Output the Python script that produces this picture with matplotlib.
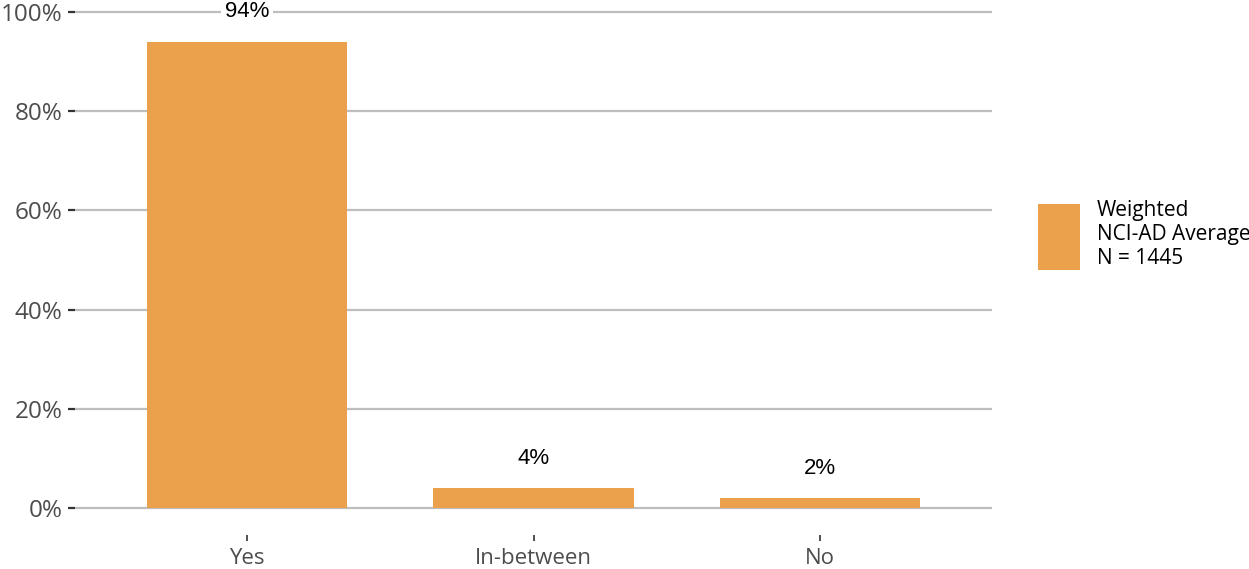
import matplotlib
matplotlib.use("Agg")
import matplotlib.pyplot as plt
from matplotlib.ticker import FuncFormatter

categories = ["Yes", "In-between", "No"]
values = [94, 4, 2]
labels = ["94%", "4%", "2%"]
yticks = [0, 20, 40, 60, 80, 100]
legend_label = "Weighted\nNCI-AD Average\nN = 1445"

W, H = 1249, 569
fig = plt.figure(figsize=(W / 100, H / 100), dpi=100)
ax = fig.add_axes([75 / W, 1 - 535 / H, (992 - 75) / W, 535 / H])

bar_color = "#EBA04C"
x = list(range(len(categories)))
ax.bar(x, values, width=0.7, color=bar_color, zorder=2, label=legend_label)

ax.set_xlim(-0.6, 2.6)
ax.set_ylim(-5.44, 102.4)

ax.set_yticks(yticks)
ax.yaxis.set_major_formatter(FuncFormatter(lambda v, p: f"{int(v)}%"))
ax.set_xticks(x)
ax.set_xticklabels(categories)

for s in ax.spines.values():
    s.set_visible(False)

ax.grid(axis="y", color="#BEBEBE", linewidth=1.6, zorder=0)
ax.grid(axis="x", visible=False)

ax.tick_params(axis="y", length=5, width=1.6, color="#333333", pad=4,
               labelsize=17.5, labelcolor="#4D4D4D")
ax.tick_params(axis="x", length=4.5, width=1.2, color="#333333", pad=5,
               labelsize=16, labelcolor="#4D4D4D")
for t in ax.get_xticklabels() + ax.get_yticklabels():
    t.set_fontfamily("Open Sans")

for xi, v, lab in zip(x, values, labels):
    ax.text(xi, v + 6, lab, ha="center", va="center", fontsize=16,
            family="Liberation Sans", color="black", zorder=3,
            bbox=dict(facecolor="white", edgecolor="none", pad=3))

leg = ax.legend(loc="center left", bbox_to_anchor=(1.03, 0.561),
                frameon=False, handlelength=2.0,
                handleheight=4.5, handletextpad=0.8,
                prop={"family": "Open Sans", "size": 15})

fig.savefig("out.png", dpi=100)
